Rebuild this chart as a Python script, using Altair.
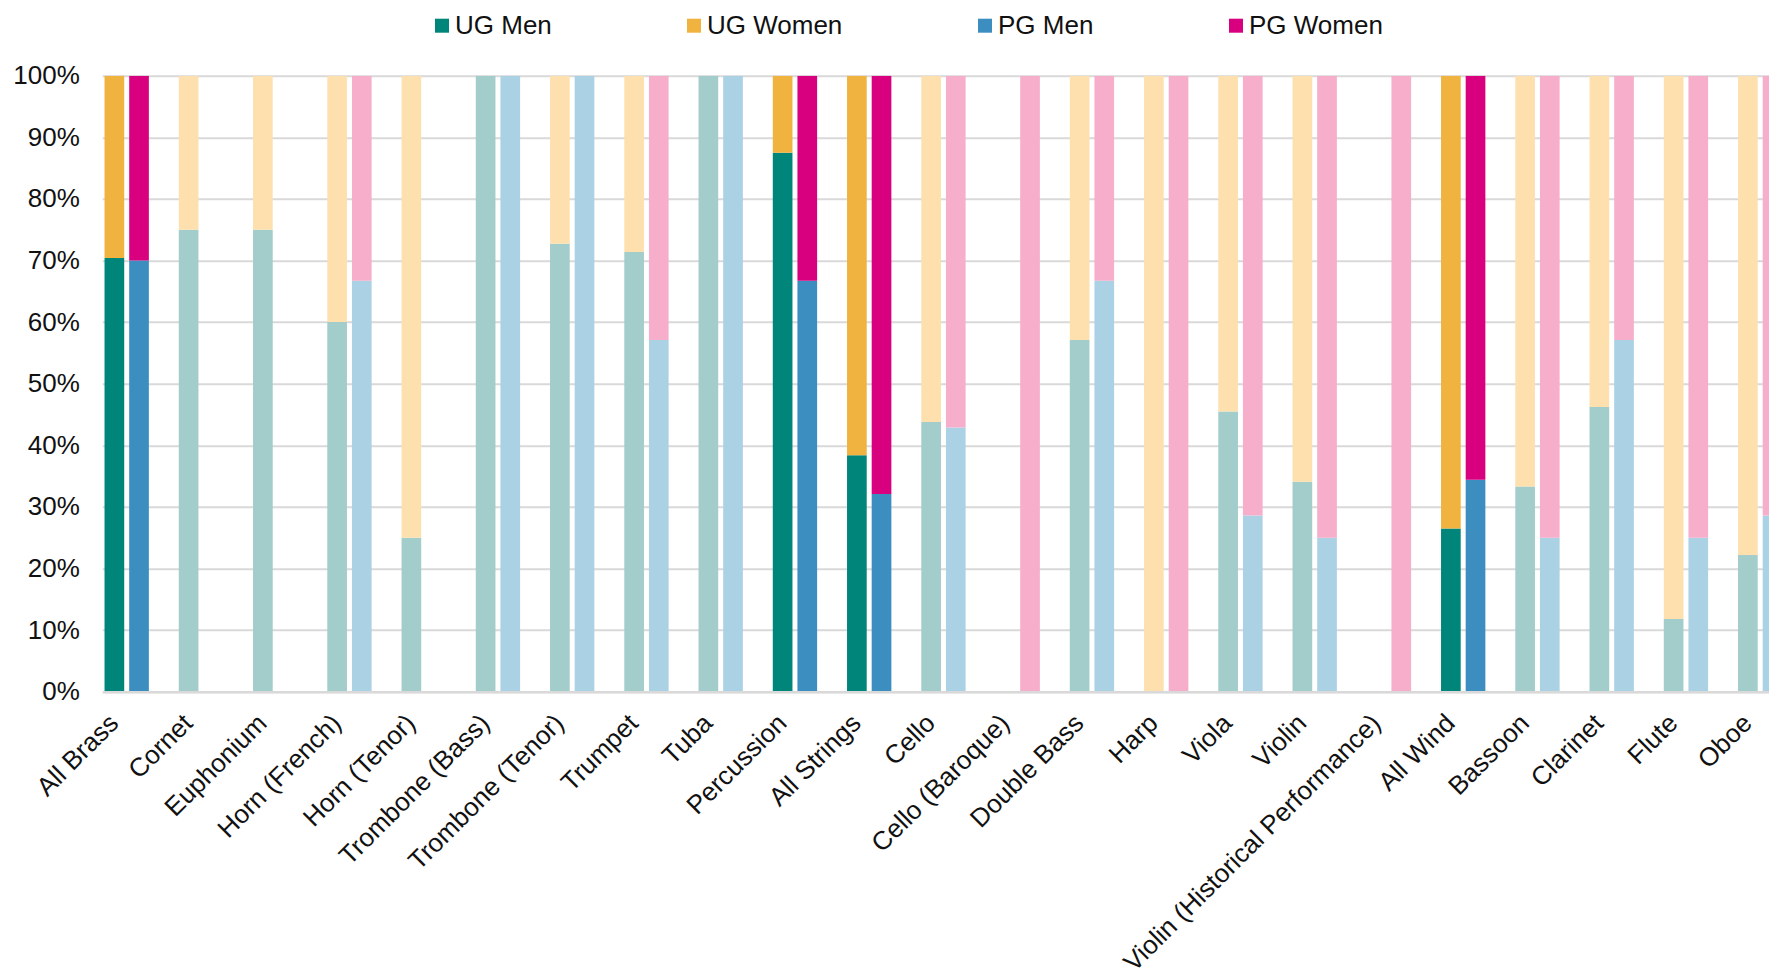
import altair as alt
import pandas as pd

# Share of men and women (%) by instrument, undergraduate (UG) and postgraduate (PG)
instruments = [
    "All Brass", "Cornet", "Euphonium", "Horn (French)", "Horn (Tenor)",
    "Trombone (Bass)", "Trombone (Tenor)", "Trumpet", "Tuba", "Percussion",
    "All Strings", "Cello", "Cello (Baroque)", "Double Bass", "Harp", "Viola",
    "Violin", "Violin (Historical Performance)", "All Wind", "Bassoon",
    "Clarinet", "Flute", "Oboe",
]
# section totals are drawn in the strong colours, single instruments in pale ones
sections = ["All Brass", "Percussion", "All Strings", "All Wind"]

ug_men = [70.4, 75.0, 75.0, 60.0, 25.0, 100.0, 72.7, 71.4, 100.0, 87.5,
          38.4, 43.8, None, 57.1, 0.0, 45.5, 34.1, None, 26.5, 33.3,
          46.2, 11.8, 22.2]
ug_women = [29.6, 25.0, 25.0, 40.0, 75.0, 0.0, 27.3, 28.6, 0.0, 12.5,
            61.6, 56.2, None, 42.9, 100.0, 54.5, 65.9, None, 73.5, 66.7,
            53.8, 88.2, 77.8]
pg_men = [70.0, None, None, 66.7, None, 100.0, 100.0, 57.1, 100.0, 66.7,
          32.1, 42.9, 0.0, 66.7, 0.0, 28.6, 25.0, 0.0, 34.4, 25.0,
          57.1, 25.0, 28.6]
pg_women = [30.0, None, None, 33.3, None, 0.0, 0.0, 42.9, 0.0, 33.3,
            67.9, 57.1, 100.0, 33.3, 100.0, 71.4, 75.0, 100.0, 65.6, 75.0,
            42.9, 75.0, 71.4]

series = ["UG Men", "UG Women", "PG Men", "PG Women"]
strong = ["#00857a", "#f0b33f", "#3c8dc0", "#d9007f"]
pale = ["#a2cdca", "#fde0ae", "#abd1e5", "#f6aecb"]
pale_keys = [s + " (instrument)" for s in series]

rows = []
for i, name in enumerate(instruments):
    for level, men, women in (("UG", ug_men[i], ug_women[i]),
                              ("PG", pg_men[i], pg_women[i])):
        for rank, (sex, val) in enumerate((("Men", men), ("Women", women))):
            if val is None:
                continue
            label = f"{level} {sex}"
            rows.append({
                "idx": i,
                "level": level,
                "rank": rank,
                "pct": val,
                "key": label if name in sections else label + " (instrument)",
            })
df = pd.DataFrame(rows)

# bar geometry in units of one category step
BAR = 0.265
GAP = 0.067
X_DOMAIN = [-0.3286, 22.1185]

FONT = "Liberation Sans"
FS = 26
INK = "#111111"

names_js = "[" + ",".join(f"'{n}'" for n in instruments) + "]"

chart = (
    alt.Chart(df)
    .transform_stack(
        stack="pct",
        groupby=["idx", "level"],
        as_=["lo", "hi"],
        sort=[alt.SortField("rank", order="ascending")],
    )
    .transform_calculate(
        left=f"datum.idx + (datum.level == 'UG' ? {-GAP / 2 - BAR} : {GAP / 2})",
        right=f"datum.idx + (datum.level == 'UG' ? {-GAP / 2} : {GAP / 2 + BAR})",
    )
    .mark_rect(clip=True)
    .encode(
        x=alt.X(
            "left:Q",
            scale=alt.Scale(domain=X_DOMAIN, nice=False, zero=False),
            axis=alt.Axis(
                title=None,
                values=list(range(len(instruments))),
                labelExpr=f"{names_js}[datum.value]",
                grid=False,
                ticks=False,
                domain=True,
                domainColor="#d9d9d9",
                domainWidth=2.5,
                labelAngle=-45,
                labelAlign="right",
                labelBaseline="middle",
                labelPadding=27,
                labelOffset=-13,
                labelFont=FONT,
                labelFontSize=FS,
                labelColor=INK,
                labelOverlap=False,
                labelFlush=False,
                labelBound=False,
                labelLimit=600,
                zindex=1,
            ),
        ),
        x2="right:Q",
        y=alt.Y(
            "lo:Q",
            scale=alt.Scale(domain=[0, 100], nice=False),
            axis=alt.Axis(
                title=None,
                values=list(range(0, 101, 10)),
                labelExpr="datum.value + '%'",
                grid=True,
                gridColor="#d9d9d9",
                gridWidth=2,
                ticks=False,
                domain=False,
                labelPadding=23,
                labelFont=FONT,
                labelFontSize=FS,
                labelColor=INK,
            ),
        ),
        y2="hi:Q",
        color=alt.Color(
            "key:N",
            scale=alt.Scale(domain=series + pale_keys, range=strong + pale),
            legend=alt.Legend(
                values=series,
                title=None,
                orient="none",
                legendX=326.7,
                legendY=-63,
                direction="horizontal",
                columns=4,
                symbolType="square",
                symbolSize=196,
                symbolStrokeWidth=0,
                labelFont=FONT,
                labelFontSize=FS,
                labelColor=INK,
                labelOffset=0,
                columnPadding=129,
                padding=0,
            ),
        ),
    )
    .properties(
        width=1666.7,
        height=616,
        autosize="none",
        padding={"left": 102.3, "top": 75.7, "right": 0, "bottom": 285.3},
        background="white",
    )
    .configure_view(stroke=None)
)

chart.save("out.html", embed_options={"renderer": "svg", "actions": False})
